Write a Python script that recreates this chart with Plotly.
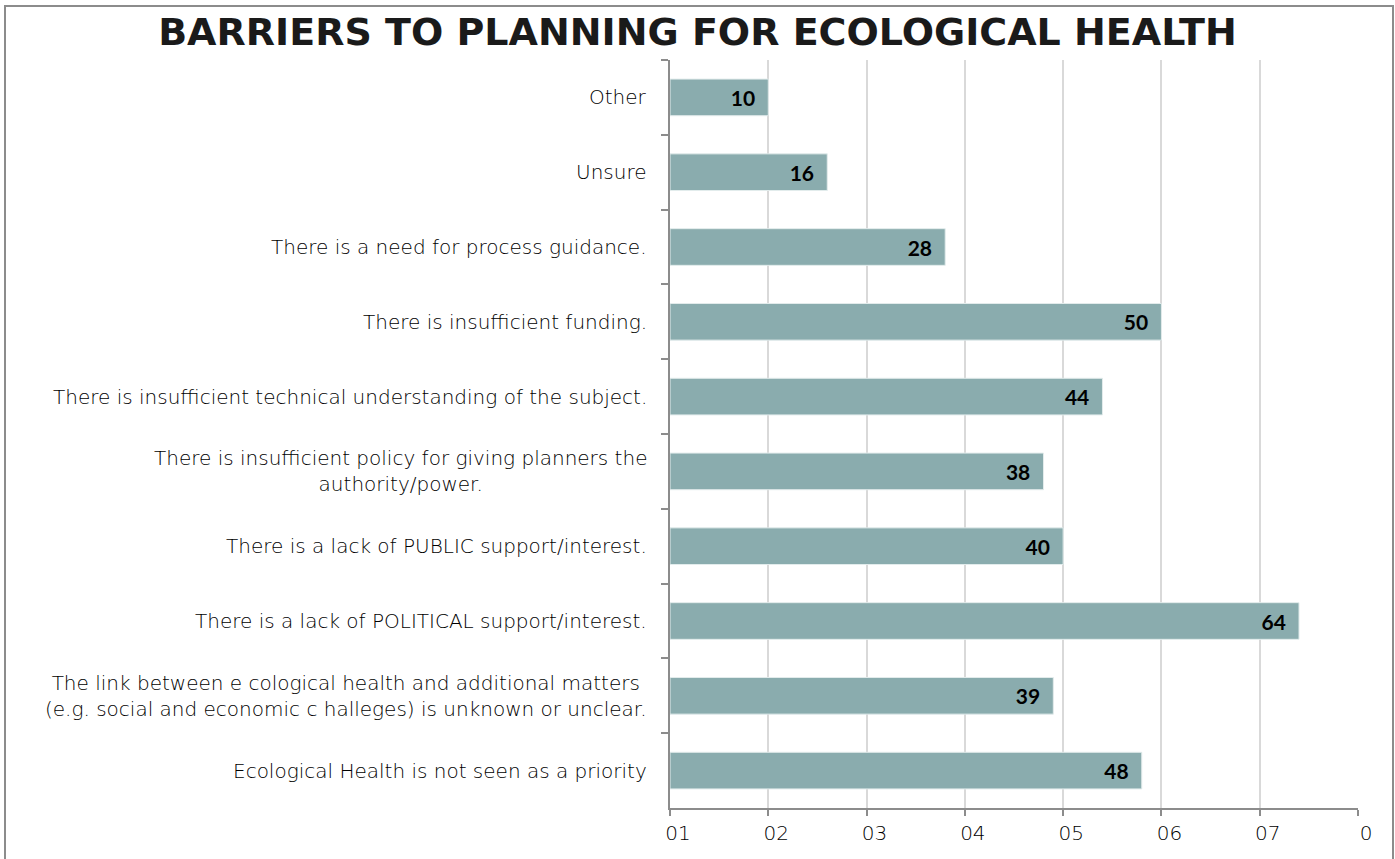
import plotly.graph_objects as go

# Survey responses, listed top to bottom as shown on the chart
categories = [
    "Other",
    "Unsure",
    "There is a need for process guidance.",
    "There is insufficient funding.",
    "There is insufficient technical understanding of the subject.",
    "There is insufficient policy for giving planners the<br>authority/power.",
    "There is a lack of PUBLIC support/interest.",
    "There is a lack of POLITICAL support/interest.",
    "The link between e cological health and additional matters<br>(e.g. social and economic c halleges) is unknown or unclear.",
    "Ecological Health is not seen as a priority",
]
values = [10, 16, 28, 50, 44, 38, 40, 64, 39, 48]

tick_values = [0, 10, 20, 30, 40, 50, 60, 70]
tick_labels = ["01", "02", "03", "04", "05", "06", "07", "0"]

title_text = "BARRIERS TO PLANNING FOR ECOLOGICAL HEALTH"

BAR_COLOR = "#8aacae"
AXIS_COLOR = "#8c8c8c"
GRID_COLOR = "#d9d9d9"
LABEL_FONT = "'DejaVu Sans', sans-serif"
VALUE_FONT = "Lato, 'DejaVu Sans', sans-serif"

fig = go.Figure(
    go.Bar(
        x=values,
        y=categories,
        orientation="h",
        width=0.49,
        marker=dict(color=BAR_COLOR, line=dict(color="#e3ecec", width=1)),
        text=[f"{v}" for v in values],
        texttemplate="%{text}\u00a0\u00a0",
        textposition="inside",
        insidetextanchor="end",
        textfont=dict(family=VALUE_FONT, size=21, color="#000000", weight="bold"),
        cliponaxis=False,
        hoverinfo="x+y",
    )
)

# Category labels, centred per line and right-aligned against the axis
annotations = [
    dict(
        x=0, xref="paper", y=cat, yref="y",
        text=cat, showarrow=False,
        xanchor="right", yanchor="middle", align="center",
        xshift=-21,
        font=dict(family=LABEL_FONT, size=20, color="#000000", weight=300),
    )
    for cat in categories
]

fig.update_layout(
    width=1395,
    height=859,
    margin=dict(l=670, r=37, t=60, b=51),
    paper_bgcolor="white",
    plot_bgcolor="white",
    showlegend=False,
    bargap=0.5,
    title=dict(
        text=title_text,
        x=0.5, xref="container", xanchor="center",
        y=0.963, yref="container", yanchor="middle",
        font=dict(family=LABEL_FONT, size=38, color="#1a1a1a", weight="bold"),
    ),
    xaxis=dict(
        range=[0, 70],
        tickmode="array",
        tickvals=tick_values,
        ticktext=tick_labels,
        ticklabelshift=8,
        showgrid=True,
        gridcolor=GRID_COLOR,
        gridwidth=2,
        zeroline=False,
        showline=True,
        linecolor=AXIS_COLOR,
        linewidth=2,
        ticks="outside",
        ticklen=6,
        tickwidth=2,
        tickcolor=AXIS_COLOR,
        tickfont=dict(family=LABEL_FONT, size=20, color="#000000", weight=300),
        fixedrange=True,
    ),
    yaxis=dict(
        autorange="reversed",
        showticklabels=False,
        showgrid=False,
        showline=True,
        linecolor=AXIS_COLOR,
        linewidth=2,
        ticks="outside",
        tickson="boundaries",
        ticklen=7,
        tickwidth=2,
        tickcolor=AXIS_COLOR,
        fixedrange=True,
    ),
    annotations=annotations,
    shapes=[
        # outer chart frame
        dict(
            type="rect", xref="paper", yref="paper",
            x0=(5 - 670) / 688, x1=(1393 - 670) / 688,
            y0=(808 - 880) / 748, y1=(808 - 6) / 748,
            line=dict(color="#8c8c8c", width=2),
            fillcolor="rgba(0,0,0,0)",
            layer="below",
        )
    ],
)

fig.write_html("out.html")
